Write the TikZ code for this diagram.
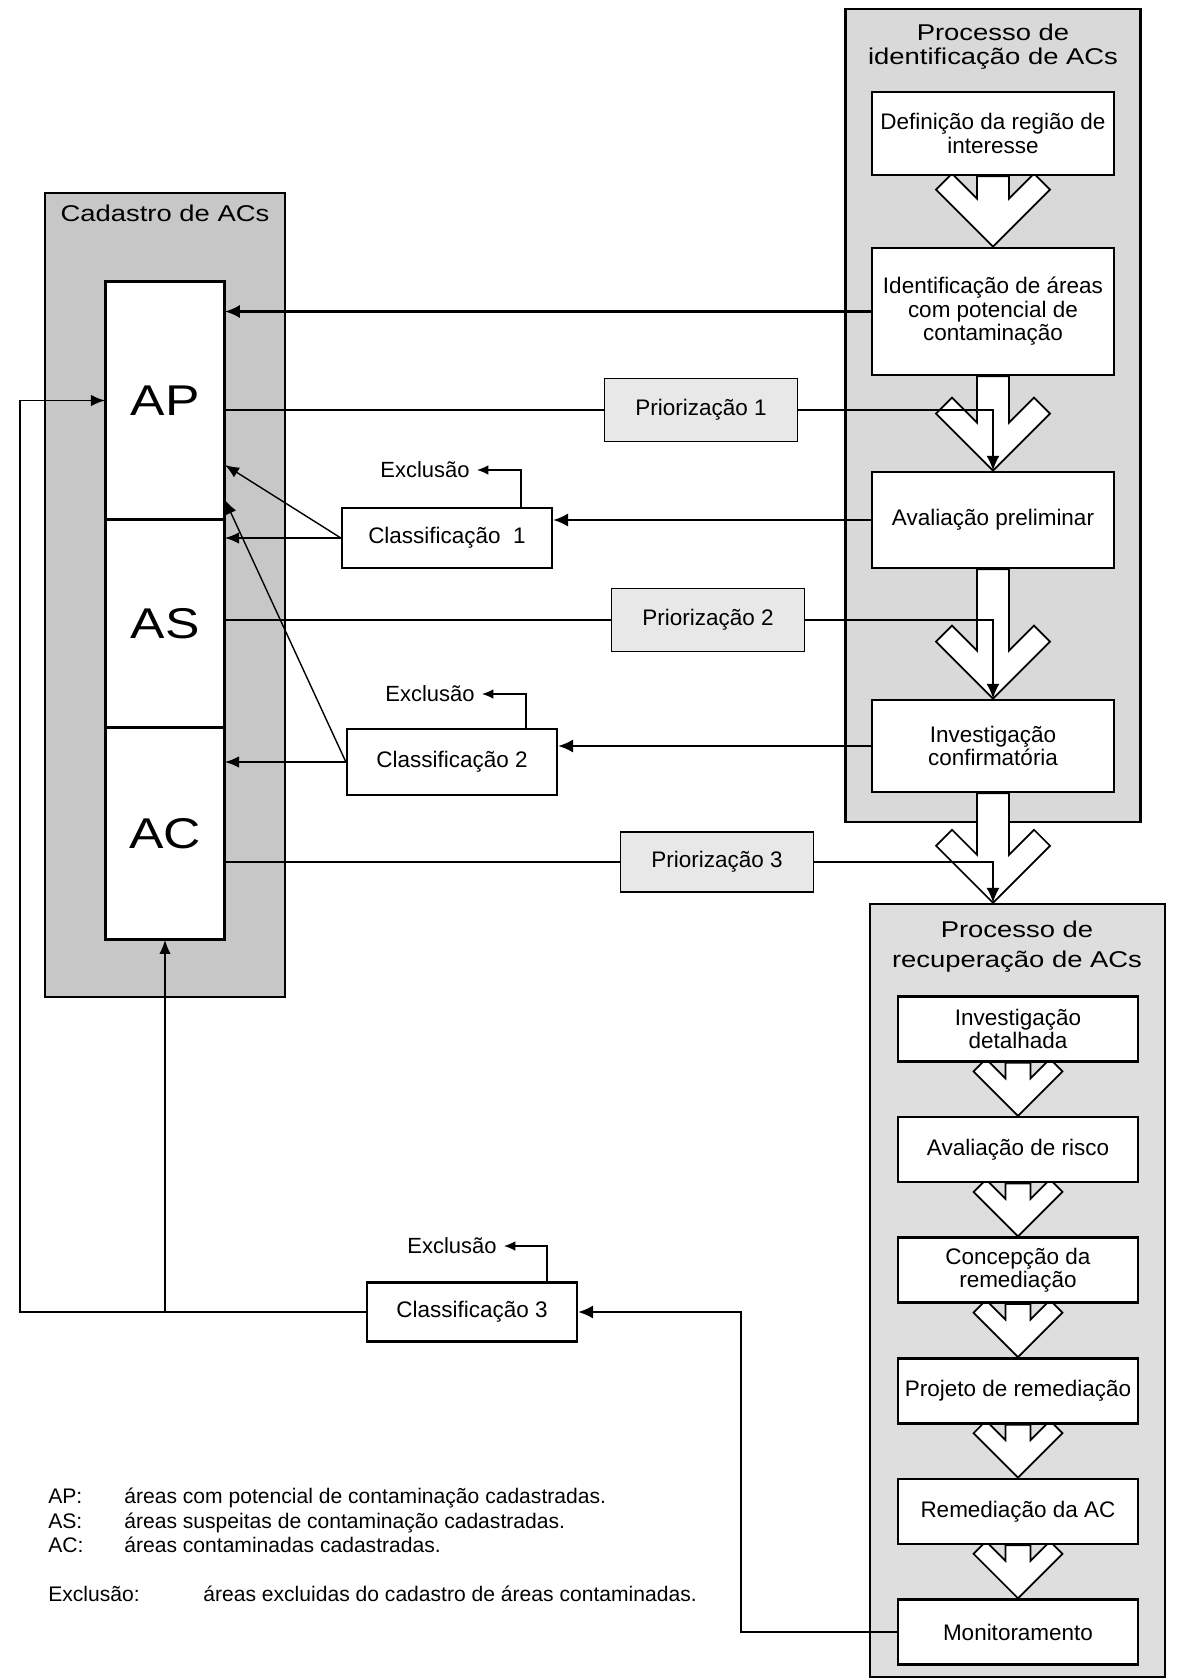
\documentclass[tikz,border=0pt]{standalone}
\usepackage{fontspec}
\setmainfont{Liberation Sans}
\newfontfamily\widefont[FakeStretch=1.2]{Liberation Sans}
\usepackage{tikz}
\usetikzlibrary{arrows.meta,positioning,calc}

\pgfdeclarelayer{frames}
\pgfdeclarelayer{arrows}
\pgfsetlayers{frames,arrows,main}

% hollow block arrow: #1 scale, #2 stem top, #3 tip
\newcommand{\fatarrow}[3]{%
  \path (#2 -| #3) coordinate (fat top) (#3) coordinate (fat tip);
  \filldraw[fatarr] ($(fat top)+(-16*#1,0)$) -- ($(fat tip)+(-16*#1,-48*#1)$) -- ($(fat tip)+(-41*#1,-73*#1)$) -- ($(fat tip)+(-57*#1,-57*#1)$) -- (fat tip) -- ($(fat tip)+(57*#1,-57*#1)$) -- ($(fat tip)+(41*#1,-73*#1)$) -- ($(fat tip)+(16*#1,-48*#1)$) -- ($(fat top)+(16*#1,0)$) -- cycle;}

\begin{document}
\begin{tikzpicture}[x=0.02cm, y=-0.02cm, node distance=1.06cm, box/.style={draw,line width=1.5pt,fill=white,align=center,inner sep=2pt,font=\fontsize{12.8pt}{13.4pt}\selectfont}, rbox/.style={box,minimum width=4.8cm,minimum height=1.3cm}, cbox/.style={box,line width=1.3pt,minimum width=4.2cm}, pbox/.style={box,line width=0.8pt,fill=black!9,minimum width=3.86cm}, frame/.style={draw,line width=1.5pt,fill=black!15}, ttl/.style={align=center,inner sep=1pt,font=\widefont\fontsize{13pt}{13.6pt}\selectfont}, big/.style={draw,line width=1.7pt,fill=white,outer sep=0pt,minimum width=2.4cm,font=\widefont\fontsize{24.5pt}{26pt}\selectfont}, lbl/.style={inner sep=4pt,font=\fontsize{12.5pt}{14pt}\selectfont}, lgd/.style={anchor=base west,inner sep=0pt,font=\fontsize{12pt}{14pt}\selectfont}, arr/.style={-{Latex[length=8.5pt,width=7.5pt]},line width=1.2pt}, link/.style={line width=1.2pt}, slim/.style={-{Latex[length=8pt,width=6.5pt]},line width=0.8pt}, excl/.style={-{Latex[length=6.5pt,width=5.5pt]},line width=0.8pt}, fatarr/.style={draw=black,fill=white,line width=1pt}]
\useasboundingbox (0,0) rectangle (1176,1679);

\begin{pgfonlayer}{frames}
\node[frame,fill=black!22,line width=1pt,minimum width=4.8cm,minimum height=16.08cm] (cadfr) at (165,595) {};
\node[frame,minimum width=5.9cm,minimum height=16.26cm] (idfr) at (993,415.5) {};
\node[frame,fill=black!13,minimum width=5.9cm,minimum height=15.46cm] (recfr) at (1017.5,1290.5) {};
\end{pgfonlayer}

\node[ttl] (cadttl) at (165,213) {Cadastro de ACs};
\node[ttl] (idttl) at (993,47) {Processo de\\identificação de ACs};
\node[ttl,font=\widefont\fontsize{13pt}{17pt}\selectfont] (recttl) at (1017,947) {Processo de\\recuperação de ACs};

\node[big,minimum height=4.78cm] (ap) at (165,400.5) {AP};
\node[big,minimum height=4.16cm,below=0pt of ap] (as) {AS};
\node[big,minimum height=4.24cm,below=0pt of as] (ac) {AC};

\node[box,minimum width=4.84cm,minimum height=1.66cm] (def) at (993,133.5) {Definição da região de\\interesse};
\node[box,minimum width=4.84cm,minimum height=2.54cm] (idf) at (993,311.5) {Identificação de áreas\\com potencial de\\contaminação};
\node[box,minimum width=4.84cm,minimum height=1.92cm] (aval) at (993,520) {Avaliação preliminar};
\node[box,minimum width=4.84cm,minimum height=1.84cm] (invc) at (993,746) {Investigação\\confirmatória};
\coordinate (tip4) at (invc.south |- recfr.north);

\node[rbox] (rinv) at (1018,1029) {Investigação\\detalhada};
\node[rbox,below=of rinv] (risk) {Avaliação de risco};
\node[rbox,below=of risk] (conc) {Concepção da\\remediação};
\node[rbox,below=of conc] (proj) {Projeto de remediação};
\node[rbox,below=of proj] (remd) {Remediação da AC};
\node[rbox,below=of remd] (mon) {Monitoramento};

\node[pbox,minimum height=1.26cm] (prio1) at (701,410) {Priorização 1};
\node[pbox,minimum height=1.26cm] (prio2) at (708,620) {Priorização 2};
\node[pbox,minimum height=1.2cm] (prio3) at (717,862) {Priorização 3};
\node[cbox,minimum height=1.2cm] (class1) at (447,538) {Classificação~~1};
\node[cbox,minimum height=1.32cm] (class2) at (452,762) {Classificação 2};
\node[cbox,minimum height=1.18cm] (class3) at (472,1312) {Classificação 3};
\node[lbl] (excl1) at (425,470) {Exclusão};
\node[lbl] (excl2) at (430,694) {Exclusão};
\node[lbl] (excl3) at (452,1246) {Exclusão};

\begin{pgfonlayer}{arrows}
\fatarrow{1}{def.south}{idf.north}
\fatarrow{1}{idf.south}{aval.north}
\fatarrow{1}{aval.south}{invc.north}
\fatarrow{1}{invc.south}{tip4}
\fatarrow{0.78}{rinv.south}{risk.north}
\fatarrow{0.78}{risk.south}{conc.north}
\fatarrow{0.78}{conc.south}{proj.north}
\fatarrow{0.78}{proj.south}{remd.north}
\fatarrow{0.78}{remd.south}{mon.north}
\end{pgfonlayer}

\draw[arr] (idf.west) -- (idf.west -| ap.east);
\draw[link] (ap.east |- prio1.west) -- (prio1.west);
\draw[arr] (prio1.east) -| (aval.north);
\draw[link] (as.east |- prio2.west) -- (prio2.west);
\draw[arr] (prio2.east) -| (invc.north);
\draw[link] (ac.east |- prio3.west) -- (prio3.west);
\draw[arr] (prio3.east) -| (tip4);

\draw[arr] (aval.west) -- (aval.west -| class1.east);
\draw[slim] (class1.west) -- (class1.west -| as.east);
\draw[slim] (class1.west) -- ($(ap.south east)+(0,-55)$);
\draw[arr] (invc.west) -- (invc.west -| class2.east);
\draw[slim] (class2.west) -- (class2.west -| ac.east);
\draw[slim] (class2.west) -- ($(ap.south east)+(0,-20)$);
\draw[arr] (mon.west) -- ++(-156,0) |- (class3.east);
\draw[slim] (class3.west) -| ($(ap.west)+(-85,0)$) -- (ap.west);
\draw[slim] (class3.west -| ac.south) -- (ac.south);

\draw[excl] ($(class1.north)+(74,0)$) |- (excl1.east);
\draw[excl] ($(class2.north)+(74,0)$) |- (excl2.east);
\draw[excl] ($(class3.north)+(75,0)$) |- (excl3.east);

\node[lgd] (lap) at (48,1503) {AP:};
\node[lgd] (lapt) at (124,1503) {áreas com potencial de contaminação cadastradas.};
\node[lgd] (las) at (48,1528) {AS:};
\node[lgd] (last) at (124,1528) {áreas suspeitas de contaminação cadastradas.};
\node[lgd] (lac) at (48,1552) {AC:};
\node[lgd] (lact) at (124,1552) {áreas contaminadas cadastradas.};
\node[lgd] (lex) at (48,1601) {Exclusão:};
\node[lgd] (lext) at (203,1601) {áreas excluidas do cadastro de áreas contaminadas.};
\end{tikzpicture}
\end{document}
